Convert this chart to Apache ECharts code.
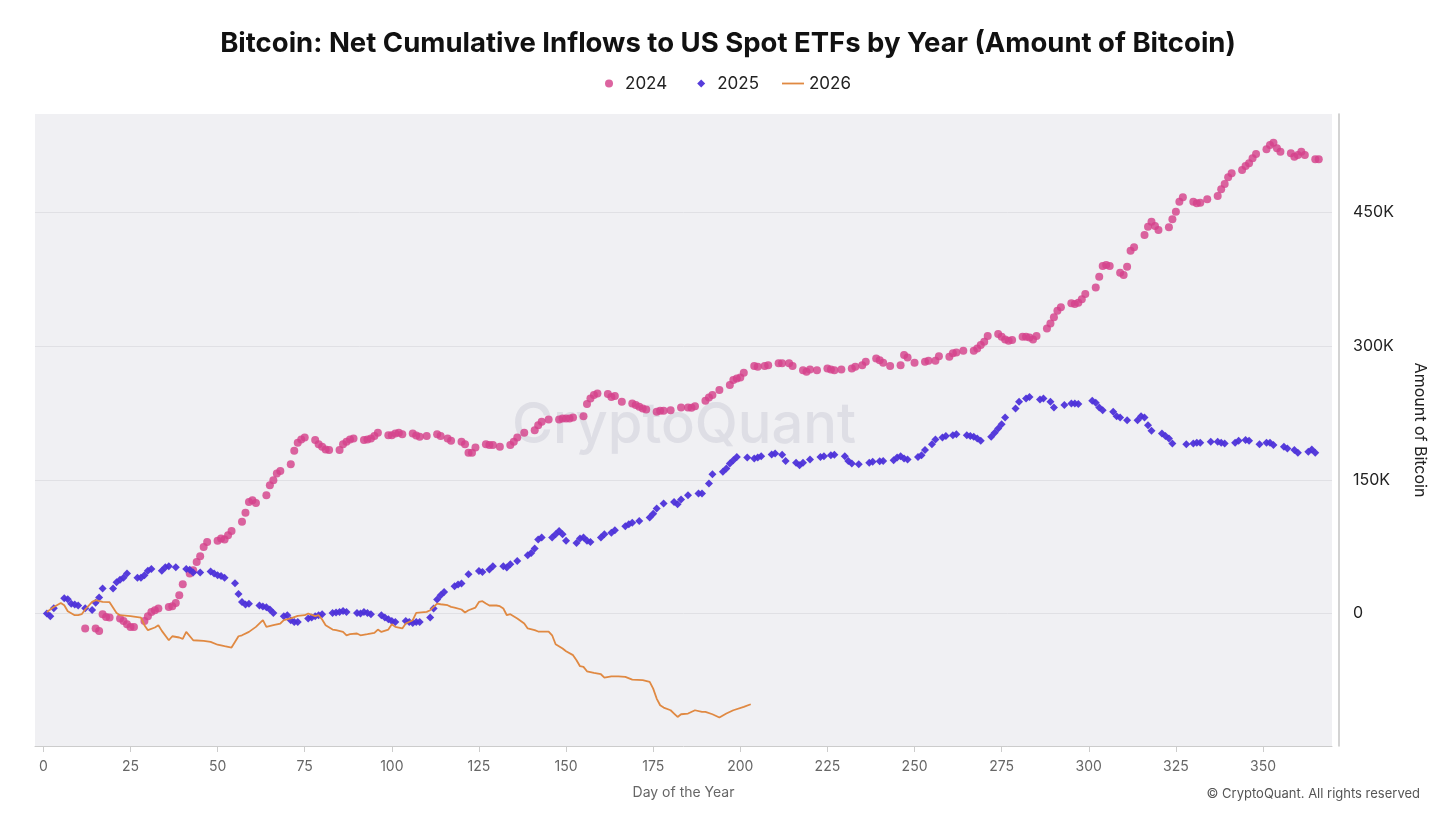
<!DOCTYPE html>
<html>
<head>
<meta charset="utf-8">
<script src="https://cdn.jsdelivr.net/npm/echarts@6/dist/echarts.min.js"></script>
<style>
html,body{margin:0;padding:0;background:#fff;}
#chart{width:1456px;height:819px;}
</style>
</head>
<body>
<div id="chart"></div>
<script>
// ---- Data (values in thousands of BTC) ----
const xTicks = [0,25,50,75,100,125,150,175,200,225,250,275,300,325,350];
const yTicks = [0,150,300,450];

const days2024 = [12,15,16,17,18,19,22,23,24,25,26,29,30,31,32,33,36,37,38,39,40,42,43,44,45,46,47,50,51,52,53,54,57,58,59,60,61,64,65,66,67,68,71,72,73,74,75,78,79,80,81,82,85,86,87,88,89,92,93,94,95,96,99,100,101,102,103,106,107,108,110,113,114,116,117,120,121,122,123,124,127,128,129,131,134,135,136,138,141,142,143,145,148,149,150,151,152,155,156,157,158,159,162,163,164,166,169,170,171,172,173,176,177,178,180,183,185,186,187,190,191,192,194,197,198,199,200,201,204,205,207,208,211,212,214,215,218,219,220,222,225,226,227,229,232,233,235,236,239,240,241,243,246,247,248,250,253,254,256,257,260,261,262,264,267,268,269,270,271,274,275,276,277,278,281,282,283,284,285,288,289,290,291,292,295,296,297,298,299,302,303,304,305,306,309,310,311,312,313,316,317,318,319,320,323,324,325,326,327,330,331,332,334,337,338,339,340,341,344,345,346,347,348,351,352,353,354,355,358,359,360,361,362,365,366];
const values2024 = [-16.8,-16.8,-19.5,-0.8,-3.8,-4.5,-5.6,-8.3,-12,-15,-15,-8.3,-3,1.8,3.7,5.6,7.4,8.2,11.9,20.5,32.9,44.9,48.6,57.9,64.3,74.7,80.3,81.5,84.2,83,87.9,92.7,102.8,112.9,125.2,127.1,124.1,132.7,144,149.6,157.1,160,167.5,182.5,191.5,195.3,197.5,194.5,190,187,184,183.3,183.3,190,192.6,195.3,196.4,194.5,195.3,196.4,199,202.7,200,200,202,202.7,201.2,202,199.8,198.2,199,201.2,199,196.4,193.7,192.6,190,180.3,180.3,186.3,190,188.9,188.9,187,188.9,192.6,197.5,202.7,205.7,211.3,215,217.7,217.7,218.8,218.8,218.8,220,221.4,234.9,241.3,245,246.9,246.1,243,243.9,237.5,235.7,233.8,231.9,230,228.9,226.2,227.4,227.4,228.1,231.2,231.2,230.7,232.6,238.6,242.4,245,250.6,256.2,261.8,263.7,264.8,270,277.5,276.7,277.5,278.6,280.6,280.6,280.6,277.5,273,271.1,273.8,273,274.9,273.8,273,273.8,274.9,276.7,278.6,282.3,286.1,284.2,281.2,277.5,278.6,289.9,287.3,281.2,282.3,283.5,283.5,288.7,287.9,291.8,292.9,294.7,294.7,297.4,301.1,304.8,311.2,313.4,310.4,307.5,305.9,306.7,310.4,310.4,309.7,307.5,311.2,319.8,325.4,332.2,339.6,343.4,347.9,347.1,348.6,352.4,358.3,365.8,377.7,389.7,390.9,389.7,382.2,379.6,389,406.9,410.7,424.5,433.8,439.4,434.6,430.1,433.2,442.2,450.7,461.9,466.8,461.9,460.1,460.8,464.6,468.3,475.8,481.8,489.3,493.8,497.5,502,505,510.6,515.4,520.7,525.5,528.1,521.8,518,516.2,512.4,514.3,518,514.3,509.5,509.5];

const days2025 = [1,2,3,6,7,8,9,10,12,14,15,16,17,20,21,22,23,24,27,28,29,30,31,34,35,36,38,41,42,43,45,48,49,50,51,52,55,56,57,58,59,62,63,64,65,66,69,70,71,72,73,76,77,78,79,80,83,84,85,86,87,90,91,92,93,94,97,98,99,100,101,104,105,106,107,108,111,112,113,114,115,118,119,120,122,125,126,128,129,132,133,134,136,139,140,141,142,143,146,147,148,149,150,153,154,155,156,157,160,161,163,164,167,168,169,171,174,175,176,178,181,182,183,185,188,189,191,192,195,196,197,198,199,202,204,205,206,209,210,212,213,216,217,218,220,223,224,226,227,230,231,232,234,237,238,240,241,244,245,246,247,248,251,252,253,255,256,258,259,261,262,265,266,267,268,269,272,273,274,275,276,279,280,282,283,286,287,289,290,293,295,296,297,301,302,303,304,307,308,309,311,314,315,316,317,318,321,322,323,324,328,330,331,332,335,337,338,339,342,343,345,346,349,351,352,353,356,357,359,360,363,364,365];
const values2025 = [0,-3,6,17,16,11,10,9,6,4,12,18,28,28,35,38,40,45,40,40,43,48,50,48,52,53,52,50,49,46,46,47,45,43,42,40,34,22,13,10,11,9,8,7,4.5,0.7,-3,-2,-7.5,-9.4,-9.4,-5.6,-4.5,-3,-1.9,-0.8,0.7,1.1,1.8,2.9,1.8,0.7,0,1.8,0.7,-0.8,-1.9,-4.5,-6.4,-8.3,-9.4,-8.3,-9.4,-10.5,-9.4,-9.4,-4.5,5.6,15.7,20.5,24.2,30.6,32.5,33.7,44.1,47.8,46.7,49.4,53,53,51.6,55.3,59,65.4,68,72.9,83,85.3,85.3,89,92.7,89,81.5,79.2,84.2,85.3,81.5,80.3,85.3,89,90.5,93.5,98,100.2,101.7,103.9,107.7,112,117.8,123.4,125.2,122.6,127.9,132.7,134.7,134.7,145.9,156.3,158.9,162.7,168.3,172,175.7,175,174,175,176.5,178.4,179.5,178,171.2,169,166.4,169,172.8,175.7,176.5,177.6,178,176.5,171.2,168.3,167.5,169,170.1,170.9,171.2,172,175,176.5,174,172.8,175.7,177.6,183.3,190,195.3,197.5,199,200,201.2,200,199,198.2,196.4,193.7,198.2,202.7,207.6,212.4,220,230,237.5,241.3,243,240,241.3,237.5,231.2,233.8,235.7,235.7,234.9,238.6,236.3,231.2,228.1,226.2,221.4,220,216.9,216.9,221.4,220,211.3,205,202,199,196.4,190.8,190,190.8,191.5,191.5,192.6,192.6,191.5,190.8,191.5,193.7,194.5,193.7,190,191.5,191.5,188.9,187,185.2,183.3,180.3,181.4,184,180.3];

const days2026 = [1,3,5,6,7,9,10,11,12,14,15,17,19,21,22,25,28,29,30,32,33,34,36,37,39,40,41,43,46,48,50,52,54,56,57,59,61,63,64,66,68,69,71,73,75,76,78,79,80,81,83,84,86,87,88,90,91,93,95,96,97,99,100,101,103,104,106,107,110,111,113,114,116,117,118,120,121,122,124,125,126,127,128,130,131,132,133,134,136,138,139,141,142,145,146,147,149,150,152,153,154,155,156,158,160,161,163,165,167,169,172,174,175,176,177,178,180,181,182,183,185,187,189,190,192,194,196,198,201,203];
const values2026 = [1.8,7.4,11.9,9.3,2.6,-1.9,-1.9,-0.8,4.5,13,14.9,13,12.7,0.7,-1.9,-3,-4.5,-13.1,-18.7,-15.7,-13.1,-19.5,-30,-25.5,-26.9,-28.5,-20.6,-30,-30.7,-31.9,-35,-36.7,-38.2,-25.5,-24.4,-20.6,-15,-7.5,-15,-13.1,-11.2,-7.5,-5.5,-2.7,-1.9,0,-3,-1.9,-6.7,-13.1,-18,-18.7,-20.6,-24.4,-23.2,-22.4,-24.4,-23.2,-21.8,-18,-20.6,-18,-12,-15,-16.8,-11.2,-7.5,0.7,1.8,3.7,11.2,10.4,9.3,7.4,6.7,4.5,1.1,3.7,6.7,13,13.8,11.2,9,9,8.2,5.6,-1.9,-0.8,-5.6,-11.2,-16.8,-18.7,-20.2,-20.2,-24.4,-34.5,-39.3,-42.3,-46.7,-52.4,-59.1,-59.8,-64.8,-66.7,-68.1,-71.8,-70.4,-70.4,-71.1,-74.1,-74.8,-76.7,-84.2,-95.4,-102.9,-105.5,-108.5,-112.2,-116,-113,-112.2,-108.5,-110.4,-110.4,-113,-116.7,-112.2,-108.5,-104.8,-101.8];

const pair = (d, v) => d.map((x, i) => [x, v[i]]);

const FONT = 'Inter, "Noto Sans", sans-serif';
const chart = echarts.init(document.getElementById('chart'), null, {renderer: 'canvas'});

chart.setOption({
  backgroundColor: '#ffffff',
  animation: false,
  textStyle: {fontFamily: FONT},
  title: {
    text: 'Bitcoin: Net Cumulative Inflows to US Spot ETFs by Year (Amount of Bitcoin)',
    left: 'center',
    top: 25,
    textStyle: {fontFamily: FONT, fontSize: 27.5, fontWeight: 700, color: '#111111'}
  },
  legend: {
    top: 70,
    left: 'center',
    itemWidth: 22,
    itemHeight: 8,
    itemGap: 23,
    symbolKeepAspect: true,
    textStyle: {fontFamily: FONT, fontSize: 17, color: '#222222'},
    data: [
      {name: '2024', icon: 'circle'},
      {name: '2025', icon: 'path://M-2.75,0L-2.75,0M2.75,0L2.75,0M0,-1L1,0L0,1L-1,0Z'},
      {name: '2026', icon: 'path://M0,0H22V1.8H0Z'}
    ]
  },
  graphic: [
    {
      type: 'text',
      left: 512, top: 398,
      z: 0,
      silent: true,
      style: {
        text: 'CryptoQuant',
        fontFamily: FONT,
        fontSize: 56,
        fontWeight: 500,
        fill: 'rgba(185,185,198,0.32)',
        shadowBlur: 10,
        shadowColor: 'rgba(185,185,198,0.8)'
      }
    },
    {
      type: 'text',
      right: 36, top: 788,
      style: {
        text: '© CryptoQuant. All rights reserved',
        fontFamily: FONT,
        fontSize: 13,
        fill: '#555555'
      }
    }
  ],
  grid: {
    left: 35, right: 124, top: 114, bottom: 73,
    show: true,
    backgroundColor: '#f0f0f3',
    borderWidth: 0
  },
  xAxis: {
    type: 'value',
    min: -2.4,
    max: 369.8,
    name: 'Day of the Year',
    nameLocation: 'middle',
    nameGap: 40,
    nameTextStyle: {fontFamily: FONT, fontSize: 14, color: '#666666'},
    axisLine: {show: true, onZero: false, lineStyle: {color: '#cccccc', width: 1}},
    axisTick: {show: true, length: 6, customValues: xTicks, lineStyle: {color: '#cccccc'}},
    axisLabel: {customValues: xTicks, margin: 14, fontFamily: FONT, fontSize: 14, color: '#666666'},
    splitLine: {show: false}
  },
  yAxis: {
    type: 'value',
    position: 'right',
    offset: 7,
    min: -148.6,
    max: 560.3,
    name: 'Amount of Bitcoin',
    nameLocation: 'middle',
    nameRotate: -90,
    nameGap: 73,
    nameTextStyle: {fontFamily: FONT, fontSize: 16, color: '#222222'},
    axisLine: {show: true, onZero: false, lineStyle: {color: '#c4c4c4', width: 1.5}},
    axisTick: {show: false, customValues: yTicks},
    axisLabel: {
      customValues: yTicks,
      margin: 14,
      fontFamily: FONT, fontSize: 16, color: '#222222',
      formatter: v => v === 0 ? '0' : v + 'K'
    },
    splitLine: {show: true, lineStyle: {color: '#e0e0e4', width: 1}}
  },
  series: [
    {
      name: '2024',
      type: 'scatter',
      symbol: 'circle',
      symbolSize: 8,
      itemStyle: {color: '#d4428b', opacity: 0.82},
      data: pair(days2024, values2024)
    },
    {
      name: '2025',
      type: 'scatter',
      symbol: 'diamond',
      symbolSize: 8,
      itemStyle: {color: '#4d32d9', opacity: 0.95},
      data: pair(days2025, values2025)
    },
    {
      name: '2026',
      type: 'line',
      symbol: 'none',
      showSymbol: false,
      lineStyle: {color: '#e08942', width: 1.8},
      itemStyle: {color: '#e08942'},
      data: pair(days2026, values2026)
    }
  ]
});
</script>
</body>
</html>
